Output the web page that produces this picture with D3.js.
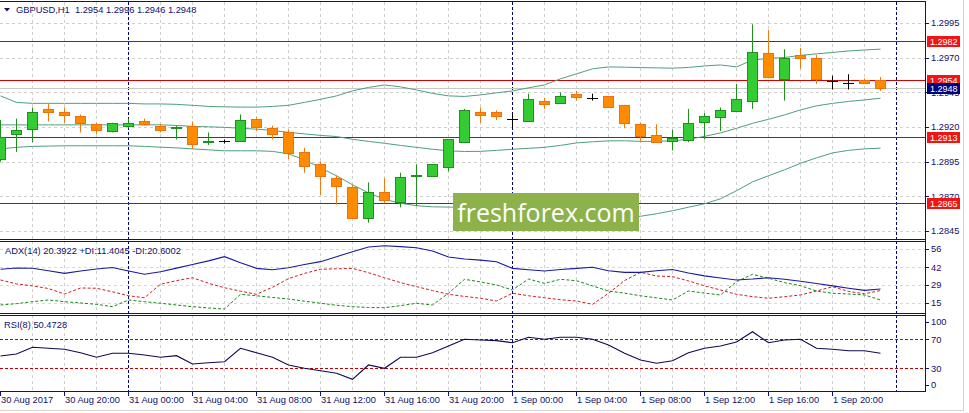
<!DOCTYPE html>
<html><head><meta charset="utf-8">
<script src="https://cdn.jsdelivr.net/npm/d3@7"></script>
<style>
html,body{margin:0;padding:0;background:#fff;}
svg{display:block;font-family:"Liberation Sans",Arial,sans-serif;}
</style></head>
<body>
<svg id="c" width="969" height="413"></svg>
<script>
// ---------------- DATA ----------------
const timeLabels = ["30 Aug 2017","30 Aug 20:00","31 Aug 00:00","31 Aug 04:00","31 Aug 08:00","31 Aug 12:00","31 Aug 16:00","31 Aug 20:00","1 Sep 00:00","1 Sep 04:00","1 Sep 08:00","1 Sep 12:00","1 Sep 16:00","1 Sep 20:00"];
const timeLabelBars = [0,4,8,12,16,20,24,28,32,36,40,44,48,52];
const daySeparatorBars = [8,32,56];

const open  = [1.2897,1.2915,1.2919,1.2933,1.2931,1.2928,1.2922,1.2917,1.2921,1.2924,1.2921,1.2919,1.2921,1.2909,1.2910,1.2910,1.2926,1.2919,1.2916,1.2902,1.2893,1.2883,1.2877,1.2854,1.2873,1.2866,1.2884,1.2884,1.2891,1.2909,1.2931,1.2931,1.2926,1.2924,1.2939,1.2937,1.2944,1.2941,1.2942,1.2936,1.2922,1.2914,1.2910,1.2911,1.2924,1.2927,1.2931,1.2939,1.2973,1.2955,1.2972,1.2970,1.2953,1.2952,1.2954,1.2954];
const high  = [1.2925,1.2926,1.2934,1.2937,1.2934,1.2929,1.2923,1.2923,1.2926,1.2926,1.2922,1.2921,1.2924,1.2916,1.2911,1.2929,1.2927,1.2921,1.2918,1.2905,1.2895,1.2885,1.2878,1.2880,1.2883,1.2887,1.2893,1.2893,1.2911,1.2933,1.2934,1.2932,1.2930,1.2944,1.2941,1.2945,1.2946,1.2944,1.2942,1.2936,1.2923,1.2922,1.2918,1.2933,1.2930,1.2934,1.2951,1.2994,1.2990,1.2976,1.2977,1.2972,1.2957,1.2958,1.2955,1.2956];
const low   = [1.2895,1.2902,1.2909,1.2924,1.2923,1.2916,1.2915,1.2916,1.2919,1.2921,1.2916,1.2911,1.2904,1.2907,1.2908,1.2910,1.2917,1.2911,1.2897,1.2887,1.2871,1.2864,1.2854,1.2851,1.2865,1.2862,1.2863,1.2884,1.2888,1.2909,1.2923,1.2925,1.2919,1.2924,1.2933,1.2937,1.2939,1.2939,1.2934,1.2919,1.2909,1.2909,1.2903,1.2909,1.2911,1.2917,1.2931,1.2933,1.2955,1.2939,1.2962,1.2951,1.2947,1.2947,1.2951,1.2946];
const close = [1.2913,1.2918,1.2931,1.2931,1.2929,1.2923,1.2918,1.2923,1.2923,1.2922,1.2918,1.2920,1.2908,1.2910,1.2910,1.2925,1.2920,1.2915,1.2901,1.2892,1.2884,1.2877,1.2855,1.2873,1.2867,1.2884,1.2885,1.2893,1.2911,1.2932,1.2929,1.2928,1.2926,1.2940,1.2937,1.2942,1.2942,1.2941,1.2934,1.2923,1.2913,1.2909,1.2912,1.2923,1.2928,1.2932,1.2940,1.2974,1.2956,1.2970,1.2970,1.2955,1.2953,1.2952,1.2952,1.2948];

const bbUpper = [1.29424,1.29377,1.29370,1.29370,1.29370,1.29370,1.29370,1.29370,1.29370,1.29366,1.29366,1.29363,1.29356,1.29348,1.29345,1.29343,1.29343,1.29348,1.29356,1.29377,1.29399,1.29424,1.29460,1.29485,1.29503,1.29489,1.29467,1.29442,1.29424,1.29420,1.29431,1.29446,1.29460,1.29482,1.29503,1.29547,1.29583,1.29619,1.29633,1.29631,1.29628,1.29626,1.29624,1.29629,1.29640,1.29647,1.29633,1.29683,1.29694,1.29701,1.29716,1.29727,1.29737,1.29748,1.29755,1.29761];
const bbMiddle = [1.29215,1.29215,1.29215,1.29215,1.29215,1.29215,1.29215,1.29215,1.29215,1.29215,1.29215,1.29211,1.29204,1.29201,1.29197,1.29191,1.29184,1.29175,1.29161,1.29150,1.29139,1.29131,1.29111,1.29096,1.29082,1.29067,1.29053,1.29039,1.29028,1.29023,1.29024,1.29031,1.29039,1.29046,1.29053,1.29067,1.29085,1.29093,1.29100,1.29100,1.29096,1.29096,1.29100,1.29111,1.29132,1.29157,1.29190,1.29226,1.29255,1.29287,1.29323,1.29352,1.29370,1.29384,1.29395,1.29407];
const bbLower = [1.29042,1.29053,1.29060,1.29062,1.29064,1.29064,1.29064,1.29064,1.29064,1.29060,1.29054,1.29049,1.29042,1.29035,1.29028,1.29028,1.29028,1.29024,1.29006,1.28963,1.28905,1.28848,1.28783,1.28725,1.28678,1.28650,1.28632,1.28624,1.28622,1.28621,1.28614,1.28603,1.28596,1.28588,1.28581,1.28570,1.28559,1.28552,1.28552,1.28552,1.28556,1.28574,1.28596,1.28621,1.28646,1.28682,1.28740,1.28804,1.28848,1.28891,1.28938,1.28977,1.29013,1.29031,1.29042,1.29047];

const adx    = [40.6,41.6,41.4,39.5,37.5,39.3,40.8,42.0,39.3,36.8,38.8,41.5,44.2,47.0,50.2,45.5,41.3,40.3,41.8,44.2,46.4,50.2,54.0,57.6,58.5,57.8,57.0,54.5,50.0,48.4,47.6,46.3,41.3,40.2,39.3,40.5,41.3,42.1,39.5,38.3,38.3,39.5,40.5,37.8,35.6,34.0,32.5,33.2,34.2,33.0,31.5,29.8,28.0,26.2,24.6,25.6];
const plusDI = [13.5,14.5,16.0,17.3,16.0,15.0,14.0,12.2,17.3,16.0,14.8,13.5,12.2,11.2,10.4,21.6,20.5,19.2,18.0,16.4,14.8,13.3,12.2,11.6,11.4,13.0,14.8,13.5,22.4,33.0,31.0,28.7,24.9,33.2,29.9,33.0,31.9,28.0,24.1,22.5,20.5,18.9,17.3,24.1,22.5,21.1,31.2,36.8,33.8,30.5,28.1,24.1,22.4,21.8,21.1,17.3];
const minusDI= [32.5,29.5,28.0,26.0,21.8,26.4,26.2,23.5,20.5,19.0,29.2,32.0,34.2,30.0,26.6,24.0,21.6,27.0,33.5,37.5,40.6,41.0,41.3,38.0,34.2,30.5,27.4,24.5,21.6,20.0,18.6,16.5,22.4,20.5,19.0,17.5,16.5,14.0,22.4,32.0,38.3,35.5,35.0,31.8,28.0,24.9,21.6,19.8,18.6,19.8,21.1,24.1,27.4,23.8,22.0,24.5];
const rsi    = [47.0,49.7,59.0,57.6,56.2,51.5,45.2,50.7,50.7,48.3,45.2,47.4,35.9,37.7,39.1,57.6,51.5,45.2,34.6,30.0,26.7,23.1,14.8,34.6,30.0,45.2,45.2,51.5,60.8,70.0,69.0,68.1,65.3,72.8,70.0,72.8,72.8,70.0,62.1,50.7,41.4,36.9,40.5,51.5,57.6,60.8,66.3,80.5,65.3,69.0,70.0,57.6,56.2,54.3,54.3,50.7];

const priceTicks = [1.2845,1.2870,1.2895,1.2920,1.2945,1.2970,1.2995];
const levelLines = [1.2982,1.2954,1.2913,1.2865];
const currentPrice = 1.2948;
const adxTicks = [15,29,42,56];
const rsiTicks = [0,30,70,100];
const rsiLevels = [30,70];

const mainTitle = "GBPUSD,H1  1.2954 1.2996 1.2946 1.2948";
const adxTitle = "ADX(14) 20.3922 +DI:11.4045 -DI:20.6002";
const rsiTitle = "RSI(8) 50.4728";
const watermark = "freshforex.com";

// ---------------- LAYOUT ----------------
const W = 969, H = 413;
const axisX = 925;
const main = {top: 2, bottom: 239};
const pADX = {top: 241, bottom: 313};
const pRSI = {top: 315, bottom: 391};
const NAVY = "#10106e";
const svg = d3.select("#c");

const nBars = open.length;
const x = d3.scaleLinear().domain([0, nBars - 1]).range([0, 880]);
const y = d3.scaleLinear().domain([1.28392, 1.30101]).range([main.bottom, main.top]);
const yA = d3.scaleLinear().domain([7.4, 62.1]).range([pADX.bottom, pADX.top]);
const yR = d3.scaleLinear().domain([-1.3, 103.5]).range([pRSI.bottom, pRSI.top]);

svg.append("rect").attr("width", W).attr("height", H).attr("fill", "#fff");

const panels = [main, pADX, pRSI];
const crisp = v => Math.round(v) + 0.5;

panels.forEach((p, k) => {
  svg.append("clipPath").attr("id", "clip" + k)
    .append("rect").attr("x", 0).attr("y", p.top).attr("width", axisX).attr("height", p.bottom - p.top);
});

// vertical grid (every 2 bars)
const gridBars = d3.range(2, nBars + 2, 2).filter(b => !daySeparatorBars.includes(b));
panels.forEach(p => {
  svg.append("g").selectAll("line").data(gridBars).join("line")
    .attr("x1", d => crisp(x(d))).attr("x2", d => crisp(x(d)))
    .attr("y1", p.top).attr("y2", p.bottom)
    .attr("stroke", "#cfcfcf").attr("stroke-dasharray", "3,3");
});

// horizontal grid main
svg.append("g").selectAll("line").data(priceTicks).join("line")
  .attr("x1", 0).attr("x2", axisX).attr("y1", d => crisp(y(d))).attr("y2", d => crisp(y(d)))
  .attr("stroke", "#cfcfcf").attr("stroke-dasharray", "3,3");
// horizontal grid ADX
svg.append("g").selectAll("line").data(adxTicks).join("line")
  .attr("x1", 0).attr("x2", axisX).attr("y1", d => crisp(yA(d))).attr("y2", d => crisp(yA(d)))
  .attr("stroke", "#d8d8d8").attr("stroke-dasharray", "3,3");

// day separators
panels.forEach(p => {
  svg.append("g").selectAll("line").data(daySeparatorBars).join("line")
    .attr("x1", d => crisp(x(d))).attr("x2", d => crisp(x(d)))
    .attr("y1", p.top).attr("y2", p.bottom)
    .attr("stroke", "#000080").attr("stroke-dasharray", "3,2");
});

// current price line
svg.append("line").attr("x1", 0).attr("x2", axisX)
  .attr("y1", crisp(y(currentPrice))).attr("y2", crisp(y(currentPrice)))
  .attr("stroke", "#c8c8c8");

// level lines
svg.append("g").selectAll("line").data(levelLines).join("line")
  .attr("x1", 0).attr("x2", axisX).attr("y1", d => crisp(y(d))).attr("y2", d => crisp(y(d)))
  .attr("stroke", "#d40000");

// Bollinger bands
const gMain = svg.append("g").attr("clip-path", "url(#clip0)");
[bbUpper, bbMiddle, bbLower].forEach(arr => {
  gMain.append("path")
    .attr("d", d3.line().x((d, i) => x(i) + 0.5).y(d => y(d))(arr))
    .attr("fill", "none").attr("stroke", "#4fa07a").attr("stroke-width", 1);
});

// candles
const bars = d3.range(nBars).map(i => ({i, o: open[i], h: high[i], l: low[i], c: close[i]}));
const cg = gMain.append("g");
bars.forEach(b => {
  const cx = Math.round(x(b.i));
  const bull = b.c > b.o, doji = b.c === b.o;
  const wickCol = doji ? "#000" : (bull ? "#1f8f1f" : "#f07a10");
  cg.append("line").attr("x1", cx + 0.5).attr("x2", cx + 0.5)
    .attr("y1", y(b.h)).attr("y2", y(b.l)).attr("stroke", wickCol);
  if (doji) {
    cg.append("line").attr("x1", cx - 5).attr("x2", cx + 6)
      .attr("y1", crisp(y(b.o))).attr("y2", crisp(y(b.o))).attr("stroke", "#000");
  } else {
    const top = y(Math.max(b.o, b.c)), bot = y(Math.min(b.o, b.c));
    const t = Math.round(top) + 0.5;
    const hgt = Math.max(1, Math.round(bot - top));
    cg.append("rect").attr("x", cx - 4.5).attr("y", t).attr("width", 10).attr("height", hgt)
      .attr("fill", bull ? "#33cc33" : "#ff8c00")
      .attr("stroke", bull ? "#1f8f1f" : "#f07010");
  }
});

// watermark
svg.append("rect").attr("x", 453).attr("y", 193).attr("width", 186).attr("height", 38).attr("fill", "#8db24b");
svg.append("text").attr("x", 546).attr("y", 222).attr("text-anchor", "middle")
  .attr("font-family", "'Open Sans', 'Noto Sans', sans-serif").attr("font-size", 25)
  .attr("fill", "#fff").text(watermark);

// ADX lines
const gA = svg.append("g").attr("clip-path", "url(#clip1)");
const lineA = d3.line().x((d, i) => x(i) + 0.5).y(d => yA(d));
gA.append("path").attr("d", lineA(minusDI)).attr("fill", "none").attr("stroke", "#d02020").attr("stroke-dasharray", "3,2");
gA.append("path").attr("d", lineA(plusDI)).attr("fill", "none").attr("stroke", "#168a16").attr("stroke-dasharray", "3,2");
gA.append("path").attr("d", lineA(adx)).attr("fill", "none").attr("stroke", "#1a1aa0").attr("stroke-width", 1.1);

// RSI
const gR = svg.append("g").attr("clip-path", "url(#clip2)");
gR.selectAll("line.lv").data(rsiLevels).join("line")
  .attr("x1", 0).attr("x2", axisX).attr("y1", d => crisp(yR(d))).attr("y2", d => crisp(yR(d)))
  .attr("stroke", "#c00000").attr("stroke-dasharray", "3,2");
gR.append("path").attr("d", d3.line().x((d, i) => x(i) + 0.5).y(d => yR(d))(rsi))
  .attr("fill", "none").attr("stroke", "#0c0c50").attr("stroke-width", 1.1);

// borders
const border = svg.append("g").attr("stroke", NAVY).attr("fill", "none");
border.append("line").attr("x1", 0).attr("x2", axisX).attr("y1", 1.5).attr("y2", 1.5);
[main.bottom, pADX.top, pADX.bottom, pRSI.top, pRSI.bottom].forEach(v => {
  border.append("line").attr("x1", 0).attr("x2", axisX + 0.5).attr("y1", v + 0.5).attr("y2", v + 0.5);
});
border.append("line").attr("x1", axisX + 0.5).attr("x2", axisX + 0.5).attr("y1", 1).attr("y2", pRSI.bottom + 1);

// right axis labels
const fs = 9.3;
function axisLabels(ticks, scale, p, fmt) {
  const g = svg.append("g");
  ticks.forEach(t => {
    const yy = Math.min(Math.max(scale(t), p.top + 7), p.bottom - 6);
    g.append("line").attr("x1", axisX).attr("x2", axisX + 4).attr("y1", crisp(yy)).attr("y2", crisp(yy)).attr("stroke", NAVY);
    g.append("text").attr("x", axisX + 6).attr("y", yy).attr("dy", "0.35em")
      .attr("font-size", fs).attr("fill", NAVY).text(fmt(t));
  });
}
axisLabels(priceTicks, y, main, d3.format(".4f"));
axisLabels(adxTicks, yA, pADX, d => d);
axisLabels(rsiTicks, yR, pRSI, d => d);

// level labels (boxes)
function boxLabel(v, fill) {
  const yy = Math.round(y(v));
  svg.append("rect").attr("x", axisX + 2).attr("y", yy - 5).attr("width", 33).attr("height", 11).attr("fill", fill);
  svg.append("text").attr("x", axisX + 5).attr("y", yy + 0.5).attr("dy", "0.35em")
    .attr("font-size", 9).attr("fill", "#fff").text(d3.format(".4f")(v));
}
levelLines.forEach(v => boxLabel(v, "#f01414"));
boxLabel(currentPrice, "#00007a");

// time axis
const tg = svg.append("g");
timeLabelBars.forEach((b, k) => {
  const xx = Math.round(x(b));
  tg.append("line").attr("x1", xx + 0.5).attr("x2", xx + 0.5).attr("y1", pRSI.bottom + 1).attr("y2", pRSI.bottom + 5).attr("stroke", NAVY);
  tg.append("text").attr("x", xx + 1).attr("y", 400).attr("dy", "0.35em")
    .attr("font-size", fs).attr("fill", NAVY).text(timeLabels[k]);
});

// titles
svg.append("path").attr("d", "M4,8 L10,8 L7,11.5 Z").attr("fill", NAVY);
svg.append("text").attr("x", 16).attr("y", 9.5).attr("dy", "0.35em").attr("font-size", fs).attr("fill", NAVY)
  .style("white-space", "pre").text(mainTitle);
svg.append("text").attr("x", 5).attr("y", 250.5).attr("dy", "0.35em").attr("font-size", fs).attr("fill", NAVY).text(adxTitle);
svg.append("text").attr("x", 4).attr("y", 325).attr("dy", "0.35em").attr("font-size", fs).attr("fill", NAVY).text(rsiTitle);

// window frame
svg.append("line").attr("x1", 963.5).attr("x2", 963.5).attr("y1", 0).attr("y2", 411).attr("stroke", "#d4d4d4");
svg.append("line").attr("x1", 0).attr("x2", 964).attr("y1", 410.5).attr("y2", 410.5).attr("stroke", "#d4d4d4");
</script>
</body></html>
